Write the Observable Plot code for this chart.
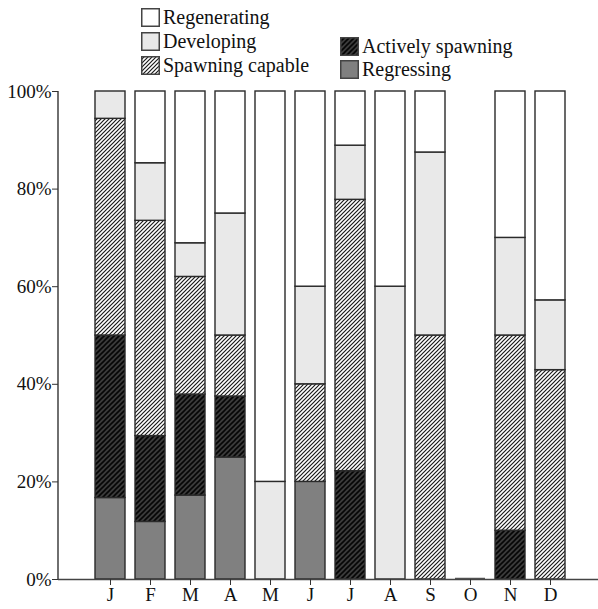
<!DOCTYPE html>
<html><head><meta charset="utf-8">
<script src="https://cdn.jsdelivr.net/npm/d3@7"></script>
<script src="https://cdn.jsdelivr.net/npm/@observablehq/plot@0.6"></script>
<style>
body{margin:0;background:#fff;font-family:"Liberation Serif","DejaVu Serif",serif;}
#wrap{position:relative;width:598px;height:609px;}
#legend{position:relative;width:598px;height:80px;}
.item{position:absolute;display:flex;align-items:center;height:19px;font-size:20px;color:#111;white-space:nowrap;}
.item svg{margin-right:3px;flex:none;}
#chart svg{display:block;}
</style></head><body>
<div id="wrap"><div id="legend"></div><div id="chart"></div></div>
<script>
// Data
const months = ["Jan","Feb","Mar","Apr","May","Jun","Jul","Aug","Sep","Oct","Nov","Dec"];
const monthLabels = ["J","F","M","A","M","J","J","A","S","O","N","D"];
const stages = ["Regressing","Actively spawning","Spawning capable","Developing","Regenerating"]; // bottom -> top
const regressing   = [16.7, 11.8, 17.2, 25,   0, 20,    0,  0,  0,    0,  0,  0];
const active       = [33.3, 17.6, 20.7, 12.5, 0,  0, 22.2,  0,  0,    0, 10,  0];
const capable      = [44.4, 44.1, 24.1, 12.5, 0, 20, 55.6,  0, 50,    0, 40, 42.9];
const developing   = [5.6,  11.8,  6.9, 25,  20, 20, 11.1, 60, 37.5,  0, 20, 14.3];
const regenerating = [0,    14.7, 31.1, 25,  80, 40, 11.1, 40, 12.5,  0, 30, 42.8];
const yTicks = [0, 20, 40, 60, 80, 100];

const series = {"Regressing": regressing, "Actively spawning": active, "Spawning capable": capable, "Developing": developing, "Regenerating": regenerating};
const data = [];
months.forEach((m, i) => stages.forEach(s => { if (series[s][i] > 0) data.push({month: m, stage: s, value: series[s][i]}); }));
const emptyMonths = months.filter((m, i) => stages.every(s => series[s][i] === 0));

const fills = {"Regressing": "#808080", "Actively spawning": "url(#pAct)", "Spawning capable": "url(#pCap)", "Developing": "#e9e9e9", "Regenerating": "#ffffff"};
const defs = `
<pattern id="pCap" patternUnits="userSpaceOnUse" width="4" height="4">
  <rect width="4" height="4" fill="#fff"/>
  <path d="M-1,1 l2,-2 M0,4 l4,-4 M3,5 l2,-2" stroke="#1a1a1a" stroke-width="1.2"/>
</pattern>
<pattern id="pAct" patternUnits="userSpaceOnUse" width="5" height="5">
  <rect width="5" height="5" fill="#3a3a3a"/>
  <path d="M-1,1 l2,-2 M0,5 l5,-5 M4,6 l2,-2" stroke="#050505" stroke-width="1.6"/>
</pattern>`;

const chart = Plot.plot({
  width: 598, height: 529,
  marginLeft: 58, marginRight: 0, marginTop: 11, marginBottom: 30,
  style: {fontFamily: "Liberation Serif, DejaVu Serif, serif", fontSize: "19px", color: "#111", background: "#fff"},
  x: {domain: months, range: [91, 568.5], paddingInner: 0.25, paddingOuter: 0},
  y: {domain: [0, 100]},
  color: {domain: stages, range: stages.map(s => fills[s])},
  marks: [
    Plot.barY(data, {x: "month", y: "value", fill: "stage", order: stages, stroke: "#2a2a2a", strokeWidth: 1.4}),
    Plot.tickY(emptyMonths, {x: d => d, y: () => 0, stroke: "#555", strokeWidth: 1.5, dy: -1}),
    Plot.ruleY([0], {stroke: "#444", strokeWidth: 1.4}),
    Plot.axisY({ticks: yTicks, tickFormat: d => d + "%", tickSize: 6, tickPadding: 1, label: null, stroke: "#333"}),
    Plot.axisX({tickFormat: d => monthLabels[months.indexOf(d)], tickSize: 6, tickPadding: 2, label: null, stroke: "#333"})
  ]
});
d3.select(chart).insert("defs", ":first-child").html(defs);
const ys = chart.scale("y");
d3.select(chart).append("line")
  .attr("x1", 58).attr("x2", 58)
  .attr("y1", ys.apply(0)).attr("y2", ys.apply(100))
  .attr("stroke", "#333").attr("stroke-width", 1.4);
document.getElementById("chart").appendChild(chart);

// Legend
const legendItems = [
  {stage: "Regenerating", left: 141, top: 8},
  {stage: "Developing", left: 141, top: 32},
  {stage: "Spawning capable", left: 141, top: 56},
  {stage: "Actively spawning", left: 340, top: 37},
  {stage: "Regressing", left: 340, top: 60}
];
const legend = document.getElementById("legend");
legendItems.forEach(it => {
  const div = document.createElement("div");
  div.className = "item";
  div.style.left = it.left + "px";
  div.style.top = it.top + "px";
  div.innerHTML = `<svg width="19" height="19"><rect x="0.75" y="0.75" width="17.5" height="17.5" fill="${fills[it.stage]}" stroke="#444" stroke-width="1.5"/></svg><span>${it.stage}</span>`;
  legend.appendChild(div);
});
</script>
</body></html>
